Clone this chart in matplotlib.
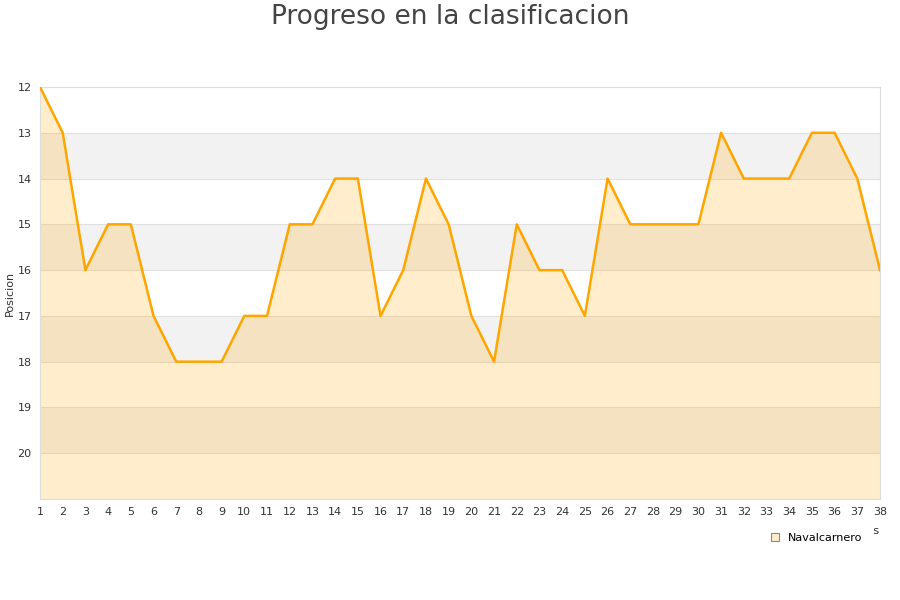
import matplotlib
matplotlib.use("Agg")
import matplotlib.pyplot as plt
from matplotlib.patches import Patch

jornadas = list(range(1, 39))
posiciones = [12, 13, 16, 15, 15, 17, 18, 18, 18, 17, 17, 15, 15, 14, 14, 17, 16, 14, 15, 17,
              18, 15, 16, 16, 17, 14, 15, 15, 15, 15, 13, 14, 14, 14, 13, 13, 14, 16]
y_ticks = list(range(12, 21))
equipo = "Navalcarnero"

fig = plt.figure(figsize=(9, 6), dpi=100)
ax = fig.add_axes([40 / 900, 101 / 600, 840 / 900, 412 / 600])

# alternating bands
for y0 in (13, 15, 17, 19):
    ax.axhspan(y0, y0 + 1, color="#f2f2f2", zorder=0, lw=0)
for y in range(12, 22):
    ax.axhline(y, color="#e0e0e0", lw=0.8, zorder=1)

ax.fill_between(jornadas, posiciones, 21, color="#ffa500", alpha=0.2, lw=0, zorder=2)
ax.plot(jornadas, posiciones, color="#ffa500", lw=1.8, zorder=3)

ax.set_xlim(1, 38)
ax.set_ylim(21, 12)
ax.set_xticks(jornadas)
ax.set_yticks(y_ticks)
ax.tick_params(length=0, labelsize=8, colors="#333333", pad=6)
for s in ax.spines.values():
    s.set_color("#dddddd")
    s.set_linewidth(0.8)

ax.set_ylabel("Posicion", fontsize=8, color="#333333", labelpad=2)
ax.set_xlabel("Jornadas", fontsize=8, color="#333333", loc="right", labelpad=6)

fig.text(0.5, 0.972, "Progreso en la clasificacion", ha="center", va="center",
         fontsize=19, color="#444444")

leg = fig.legend(handles=[Patch(facecolor="#ffeecc", edgecolor="#888888", lw=0.8, label=equipo)],
                 loc="center", bbox_to_anchor=(0.907, 0.103), fontsize=8, frameon=True,
                 handlelength=0.7, handleheight=0.7, handletextpad=0.8, borderpad=0.9,
                 framealpha=1, fancybox=False)
leg.get_frame().set_facecolor("white")
leg.get_frame().set_edgecolor("white")
leg.set_zorder(10)

fig.savefig("out.png", dpi=100)
